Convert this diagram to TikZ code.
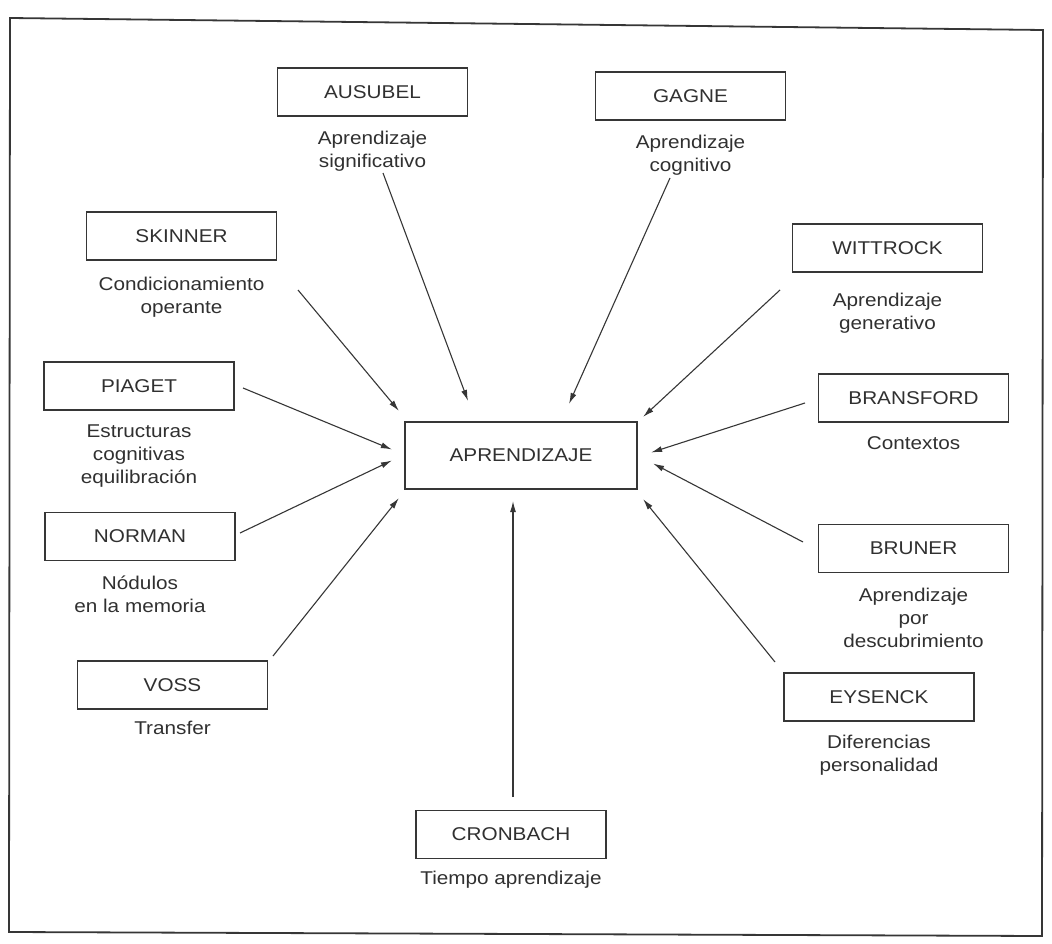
\documentclass[tikz,border=0pt]{standalone}
\usepackage{fontspec}
\setmainfont{Liberation Sans}[FakeStretch=1.12]
\usepackage{xcolor}
\definecolor{TintaGris}{HTML}{363636}
\definecolor{TextoGris}{HTML}{303030}
\usepackage{tikz}
\usetikzlibrary{calc,positioning,arrows.meta}

\begin{document}
\begin{tikzpicture}[x=1pt, y=-1pt,
    caja/.style={draw=TintaGris, line width=1.4pt, minimum width=190pt, minimum height=48pt, inner sep=0pt, text=TextoGris, font=\fontsize{18.5}{23}\selectfont},
    nota/.style={align=center, inner sep=0pt, text=TextoGris, font=\fontsize{18.5}{23}\selectfont},
    flecha/.style={-{Latex[length=11pt,width=6pt]}, draw=TintaGris, line width=1.1pt}]
        \useasboundingbox (0,0) rectangle (1052,944);
        % marco
        \draw[TintaGris, line width=1.8pt] (10,18) -- (1043,30) -- (1042,936) -- (9,932) -- cycle;

        % nodo central
        \node[caja, line width=2.2pt, minimum width=232pt, minimum height=67pt] (apr) at (521,455.5) {APRENDIZAJE};

        % autores
        \node[caja] (ausubel) at (372.5,92) {AUSUBEL};
        \node[nota, below=14pt of ausubel] (ausubel-t) {Aprendizaje\\significativo};
        \node[caja] (gagne) at (690.5,96) {GAGNE};
        \node[nota, below=14pt of gagne] (gagne-t) {Aprendizaje\\cognitivo};
        \node[caja] (skinner) at (181.5,236) {SKINNER};
        \node[nota, below=16pt of skinner] (skinner-t) {Condicionamiento\\operante};
        \node[caja] (wittrock) at (887.5,248) {WITTROCK};
        \node[nota, below=20pt of wittrock] (wittrock-t) {Aprendizaje\\generativo};
        \node[caja] (piaget) at (139,386) {PIAGET};
        \node[nota, below=14pt of piaget] (piaget-t) {Estructuras\\cognitivas\\equilibración};
        \node[caja] (bransford) at (913.5,398) {BRANSFORD};
        \node[nota, below=14pt of bransford] (bransford-t) {Contextos};
        \node[caja] (norman) at (140,536.5) {NORMAN};
        \node[nota, below=14pt of norman] (norman-t) {Nódulos\\en la memoria};
        \node[caja] (bruner) at (913.5,548.5) {BRUNER};
        \node[nota, below=15pt of bruner] (bruner-t) {Aprendizaje\\por\\descubrimiento};
        \node[caja] (voss) at (172.5,685) {VOSS};
        \node[nota, below=11pt of voss] (voss-t) {Transfer};
        \node[caja] (eysenck) at (879,697) {EYSENCK};
        \node[nota, below=13pt of eysenck] (eysenck-t) {Diferencias\\personalidad};
        \node[caja] (cronbach) at (511,834.5) {CRONBACH};
        \node[nota, below=12pt of cronbach] (cronbach-t) {Tiempo aprendizaje};

        % origen de las flechas
        \coordinate (ausubel-o) at (383,173);
        \coordinate (gagne-o) at (670,178);
        \coordinate (skinner-o) at (298,290);
        \coordinate (wittrock-o) at (780,290);
        \coordinate (piaget-o) at (243,388);
        \coordinate (bransford-o) at (805,403);
        \coordinate (norman-o) at (240,533);
        \coordinate (bruner-o) at (803,542);
        \coordinate (voss-o) at (273,656);
        \coordinate (eysenck-o) at (775,662);
        \coordinate (cronbach-o) at (513,797);

        \draw[flecha] (ausubel-o) -- ($(apr.north)+(-53,-20)$);
        \draw[flecha] (gagne-o) -- ($(apr.north)+(48,-17)$);
        \draw[flecha] (skinner-o) -- ($(apr.north west)+(-5,-10)$);
        \draw[flecha] (wittrock-o) -- ($(apr.north east)+(5,-4)$);
        \draw[flecha] (piaget-o) -- ($(apr.west)+(-12,-6)$);
        \draw[flecha] (bransford-o) -- ($(apr.east)+(13,-3)$);
        \draw[flecha] (norman-o) -- ($(apr.west)+(-12,5)$);
        \draw[flecha] (bruner-o) -- ($(apr.east)+(15,8)$);
        \draw[flecha] (voss-o) -- ($(apr.south west)+(-5,8)$);
        \draw[flecha] (eysenck-o) -- ($(apr.south east)+(5,9)$);
        \draw[flecha] (cronbach-o) -- ($(apr.south)+(-8,11)$);
\end{tikzpicture}
\end{document}
